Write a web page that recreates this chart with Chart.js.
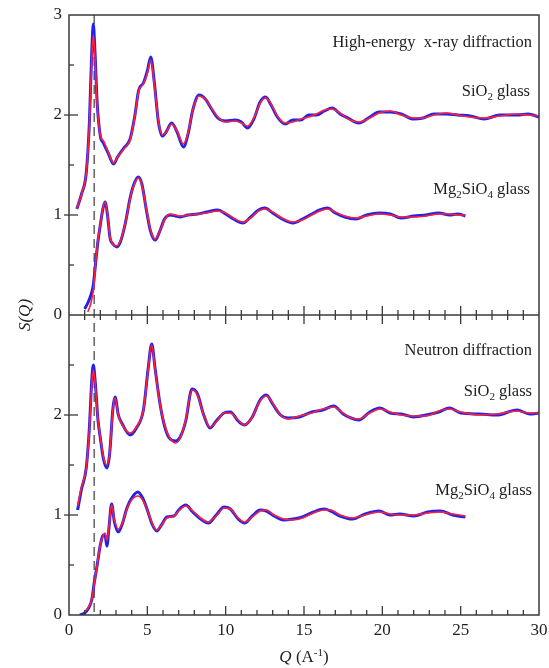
<!DOCTYPE html>
<html><head><meta charset="utf-8">
<script src="https://cdn.jsdelivr.net/npm/chart.js@4.4.1/dist/chart.umd.min.js"></script>
<style>html,body{margin:0;padding:0;background:#fff;}</style>
</head><body>
<canvas id="c" width="549" height="668"></canvas>
<script>
// ---------- data ----------
const qXS = [0.5,0.8,1.1,1.3,1.45,1.55,1.65,1.8,2.0,2.2,2.5,2.85,3.1,3.5,3.9,4.2,4.45,4.75,5.0,5.22,5.45,5.7,5.95,6.2,6.55,6.9,7.3,7.6,7.9,8.3,8.7,9.1,9.5,10.0,10.6,11.0,11.4,11.8,12.2,12.55,12.9,13.3,13.8,14.3,14.8,15.3,15.8,16.3,16.8,17.3,17.8,18.5,19.2,19.8,20.5,21.2,22.0,22.6,23.3,24.1,24.8,25.6,26.5,27.5,28.6,29.3,30];
const xraySiO2Fit = [1.06,1.21,1.42,1.9,2.55,2.80,2.6,2.1,1.80,1.74,1.63,1.52,1.58,1.66,1.75,1.98,2.24,2.31,2.42,2.55,2.3,1.95,1.80,1.83,1.91,1.84,1.71,1.82,2.05,2.19,2.16,2.07,1.98,1.93,1.94,1.92,1.89,1.97,2.12,2.17,2.11,1.99,1.92,1.93,1.96,1.98,2.01,2.05,2.06,2.02,1.96,1.93,1.97,2.02,2.04,2.0,1.97,1.97,2.0,2.02,2.0,1.98,1.97,1.99,2.01,2.0,1.99];
const xraySiO2Data = [1.06,1.21,1.42,1.92,2.62,2.91,2.66,2.12,1.79,1.72,1.62,1.51,1.58,1.67,1.76,1.99,2.25,2.32,2.44,2.58,2.32,1.94,1.79,1.83,1.92,1.83,1.68,1.81,2.05,2.20,2.16,2.06,1.97,1.94,1.95,1.93,1.87,1.96,2.13,2.18,2.10,1.98,1.91,1.95,1.95,2.00,2.00,2.04,2.07,2.01,1.97,1.92,1.98,2.03,2.03,2.01,1.96,1.97,2.01,2.01,2.00,1.99,1.96,2.00,2.00,2.01,1.98];

const qXM = [1.0,1.2,1.4,1.55,1.7,1.85,2.0,2.15,2.3,2.45,2.62,2.8,3.05,3.3,3.6,3.9,4.15,4.42,4.65,4.95,5.2,5.5,5.8,6.1,6.45,6.8,7.1,7.6,8.2,8.8,9.5,10.0,10.5,11.1,11.6,12.1,12.5,13.0,13.6,14.3,14.9,15.5,16.0,16.5,17.0,17.6,18.3,19.0,19.8,20.5,21.2,22.0,22.8,23.6,24.3,24.8,25.3];
const xrayMgFit = [null,0.03,0.12,0.24,0.52,0.75,0.9,1.06,1.13,1.02,0.78,0.71,0.69,0.75,0.92,1.16,1.3,1.37,1.3,1.05,0.85,0.76,0.84,0.95,1.01,1.00,0.99,1.00,1.01,1.02,1.04,1.02,0.97,0.93,0.97,1.04,1.06,1.03,0.97,0.93,0.95,1.0,1.04,1.06,1.03,0.99,0.97,0.99,1.01,1.0,0.98,0.98,0.99,1.01,1.01,1.0,1.0];
const xrayMgData = [0.06,0.12,0.2,0.3,0.52,0.74,0.9,1.05,1.13,1.01,0.77,0.71,0.68,0.74,0.92,1.17,1.31,1.38,1.31,1.04,0.84,0.75,0.84,0.96,1.00,0.99,0.98,1.00,1.01,1.03,1.05,1.01,0.96,0.92,0.98,1.05,1.07,1.02,0.96,0.92,0.96,1.01,1.05,1.07,1.02,0.98,0.96,1.00,1.02,1.01,0.97,0.99,1.00,1.02,1.00,1.01,0.99];

const qNS = [0.55,0.8,1.1,1.3,1.45,1.55,1.68,1.85,2.0,2.2,2.42,2.6,2.8,2.94,3.15,3.4,3.9,4.3,4.75,5.05,5.28,5.5,5.8,6.1,6.4,6.8,7.1,7.45,7.85,8.2,8.6,9.0,9.4,9.9,10.3,10.8,11.2,11.7,12.2,12.6,13.0,13.5,14.0,14.7,15.5,16.2,16.9,17.5,18.0,18.5,19.2,19.85,20.5,21.2,22.0,22.8,23.6,24.3,25.0,26.2,27.3,28.6,29.4,30];
const neutronSiO2Fit = [1.09,1.28,1.47,1.85,2.3,2.45,2.3,1.95,1.78,1.58,1.50,1.62,2.05,2.17,2.0,1.9,1.82,1.88,2.05,2.45,2.70,2.45,2.12,1.90,1.78,1.72,1.77,1.95,2.25,2.2,2.0,1.88,1.93,2.02,2.02,1.95,1.90,1.98,2.14,2.19,2.12,2.0,1.96,1.99,2.02,2.06,2.08,2.02,1.97,1.96,2.02,2.06,2.03,2.0,1.99,1.99,2.04,2.06,2.03,2.0,2.01,2.04,2.02,2.02];
const neutronSiO2Data = [1.05,1.26,1.47,1.87,2.34,2.50,2.32,1.95,1.77,1.56,1.47,1.62,2.06,2.18,2.0,1.91,1.80,1.87,2.05,2.46,2.71,2.46,2.12,1.89,1.77,1.74,1.78,1.94,2.26,2.21,2.0,1.87,1.94,2.02,2.03,1.94,1.90,1.98,2.15,2.20,2.11,2.0,1.97,1.98,2.03,2.05,2.09,2.01,1.97,1.95,2.03,2.07,2.02,2.01,1.98,2.00,2.03,2.07,2.02,2.01,2.00,2.05,2.01,2.02];

const qNM = [0.7,1.0,1.25,1.45,1.6,1.8,2.0,2.2,2.3,2.42,2.55,2.72,2.9,3.15,3.4,3.7,4.0,4.4,4.7,5.0,5.3,5.6,5.9,6.25,6.7,7.0,7.45,7.9,8.4,8.9,9.4,9.9,10.3,10.8,11.2,11.7,12.2,12.6,13.1,13.7,14.3,14.9,15.6,16.3,16.7,17.3,18.1,18.9,19.8,20.5,21.1,22.0,22.9,23.7,24.5,25.3];
const neutronMgFit = [null,0.03,0.08,0.15,0.3,0.5,0.7,0.8,0.82,0.75,0.88,1.1,0.95,0.86,0.92,1.06,1.15,1.19,1.15,1.05,0.92,0.85,0.9,0.97,0.99,1.04,1.09,1.04,0.97,0.93,0.99,1.07,1.06,0.97,0.93,0.98,1.04,1.05,1.0,0.96,0.95,0.97,1.02,1.05,1.05,1.0,0.97,1.0,1.03,1.01,1.0,1.0,1.02,1.03,1.01,0.99];
const neutronMgData = [0.0,0.02,0.07,0.15,0.31,0.5,0.7,0.8,0.8,0.69,0.87,1.11,0.93,0.83,0.91,1.07,1.17,1.23,1.17,1.05,0.91,0.84,0.9,0.98,0.99,1.05,1.1,1.03,0.96,0.92,1.0,1.08,1.06,0.96,0.92,0.99,1.05,1.04,0.99,0.95,0.96,0.98,1.03,1.06,1.04,0.99,0.96,1.01,1.04,1.00,1.01,0.99,1.03,1.04,1.00,0.98];

const xTickStep = 5;
const yTickStep = 0.5;
const dashQ = 1.61;
const panelTitles = ['High-energy  x-ray diffraction', 'Neutron diffraction'];

// ---------- chart ----------
const SERIF = '"Liberation Serif","Times New Roman",serif';
const RED = '#ff1f3d', BLUE = '#2222e8';
function pts(q, s) { const out = []; q.forEach((x, i) => { if (s[i] != null) out.push({x: x, y: s[i]}); }); return out; }
function ds(label, q, s, axis, fit) {
  return { label, data: pts(q, s), yAxisID: axis, borderColor: fit ? RED : BLUE,
    borderWidth: fit ? 1.6 : 3, pointRadius: 0, cubicInterpolationMode: 'monotone', order: fit ? 0 : 1, fill: false };
}
const yScale = (top) => ({
  type: 'linear', position: 'left', stack: 'panels', stackWeight: 1, min: 0, max: 3,
  grid: { display: false, drawTicks: false }, border: { display: false },
  ticks: { stepSize: yTickStep, autoSkip: false, padding: 7, color: '#1e1e1e', font: { family: SERIF, size: 17 },
    callback: v => (Number.isInteger(v) && (top || v < 3)) ? String(v) : '' },
  afterFit: s => { s.width = 69; s.paddingTop = 0; s.paddingBottom = 0; }
});

function rich(ctx, parts, rightX, baseY) {
  let w = 0;
  parts.forEach(p => { ctx.font = p.f; w += ctx.measureText(p.t).width; });
  let x = rightX - w;
  parts.forEach(p => { ctx.font = p.f; ctx.fillText(p.t, x, baseY + (p.dy || 0)); x += ctx.measureText(p.t).width; });
}
const F = s => s + 'px ' + SERIF;
function glassLabel(formula) {
  return formula.map(([t, sub]) => ({ t, f: F(sub ? 11 : 16.5), dy: sub ? 4 : 0 }));
}

const deco = {
  id: 'deco',
  beforeDatasetsDraw(chart) {
    const { ctx, chartArea: a, scales } = chart;
    const dx = scales.x.getPixelForValue(dashQ);
    ctx.save();
    ctx.strokeStyle = '#6a6a6a'; ctx.lineWidth = 1.6; ctx.setLineDash([9, 5]);
    ctx.beginPath(); ctx.moveTo(dx, a.top); ctx.lineTo(dx, a.bottom); ctx.stroke();
    ctx.restore();
  },
  afterDraw(chart) {
    const { ctx, chartArea: a, scales } = chart;
    const xs = scales.x, yT = scales.yTop, yB = scales.yBot;
    ctx.save();
    ctx.strokeStyle = '#3a3a3a'; ctx.lineWidth = 1.5;
    ctx.strokeRect(a.left, a.top, a.right - a.left, a.bottom - a.top);
    const mid = yT.getPixelForValue(0);
    const L = (x1, y1, x2, y2) => { ctx.beginPath(); ctx.moveTo(x1, y1); ctx.lineTo(x2, y2); ctx.stroke(); };
    L(a.left, mid, a.right, mid);
    ctx.lineWidth = 1.3;
    for (let q = 1; q < 30; q++) {
      const px = xs.getPixelForValue(q), major = q % xTickStep === 0, len = major ? 9 : 5;
      L(px, a.bottom, px, a.bottom - len);
      L(px, mid - len, px, mid + len);
    }
    [yT, yB].forEach(sc => {
      for (let v = 0.5; v < 3; v += yTickStep) {
        const py = sc.getPixelForValue(v);
        if (Number.isInteger(v)) L(a.left - 5, py, a.left + 9, py); else L(a.left, py, a.left + 5, py);
      }
    });
    // annotations
    ctx.fillStyle = '#1e1e1e'; ctx.textBaseline = 'alphabetic';
    const R = a.right - 7;
    rich(ctx, [{ t: panelTitles[0], f: F(16.5) }], R, 47);
    rich(ctx, glassLabel([['SiO', 0], ['2', 1], [' glass', 0]]), R - 2, 96);
    rich(ctx, glassLabel([['Mg', 0], ['2', 1], ['SiO', 0], ['4', 1], [' glass', 0]]), R - 2, 194);
    rich(ctx, [{ t: panelTitles[1], f: F(16.5) }], R, 355);
    rich(ctx, glassLabel([['SiO', 0], ['2', 1], [' glass', 0]]), R, 396);
    rich(ctx, glassLabel([['Mg', 0], ['2', 1], ['SiO', 0], ['4', 1], [' glass', 0]]), R, 495);
    // axis titles
    ctx.save();
    ctx.translate(30, 315); ctx.rotate(-Math.PI / 2);
    ctx.font = 'italic 17px ' + SERIF; ctx.textAlign = 'center';
    ctx.fillText('S(Q)', 0, 0);
    ctx.restore();
    const cx = (a.left + a.right) / 2;
    const xt = [{ t: 'Q', f: 'italic 17px ' + SERIF }, { t: ' (A', f: F(17) }, { t: '-1', f: F(11), dy: -6 }, { t: ')', f: F(17) }];
    let w = 0; xt.forEach(p => { ctx.font = p.f; w += ctx.measureText(p.t).width; });
    rich(ctx, xt, cx + w / 2, 662);
    ctx.restore();
  }
};

new Chart(document.getElementById('c'), {
  type: 'line',
  data: { datasets: [
    ds('X-ray SiO2 fit', qXS, xraySiO2Fit, 'yTop', true),
    ds('X-ray SiO2 data', qXS, xraySiO2Data, 'yTop', false),
    ds('X-ray Mg2SiO4 fit', qXM, xrayMgFit, 'yTop', true),
    ds('X-ray Mg2SiO4 data', qXM, xrayMgData, 'yTop', false),
    ds('Neutron SiO2 fit', qNS, neutronSiO2Fit, 'yBot', true),
    ds('Neutron SiO2 data', qNS, neutronSiO2Data, 'yBot', false),
    ds('Neutron Mg2SiO4 fit', qNM, neutronMgFit, 'yBot', true),
    ds('Neutron Mg2SiO4 data', qNM, neutronMgData, 'yBot', false)
  ]},
  options: {
    responsive: false, animation: false, devicePixelRatio: 1,
    layout: { padding: { left: 0, top: 15, right: 10, bottom: 0 } },
    plugins: { legend: { display: false }, tooltip: { enabled: false } },
    scales: {
      x: { type: 'linear', min: 0, max: 30, grid: { display: false, drawTicks: false }, border: { display: false },
        ticks: { stepSize: xTickStep, autoSkip: false, maxRotation: 0, padding: 5, color: '#1e1e1e', font: { family: SERIF, size: 17 } },
        afterFit: s => { s.height = 53; s.paddingLeft = 0; s.paddingRight = 0; } },
      yBot: yScale(false),
      yTop: yScale(true)
    }
  },
  plugins: [deco]
});
</script>
</body></html>
